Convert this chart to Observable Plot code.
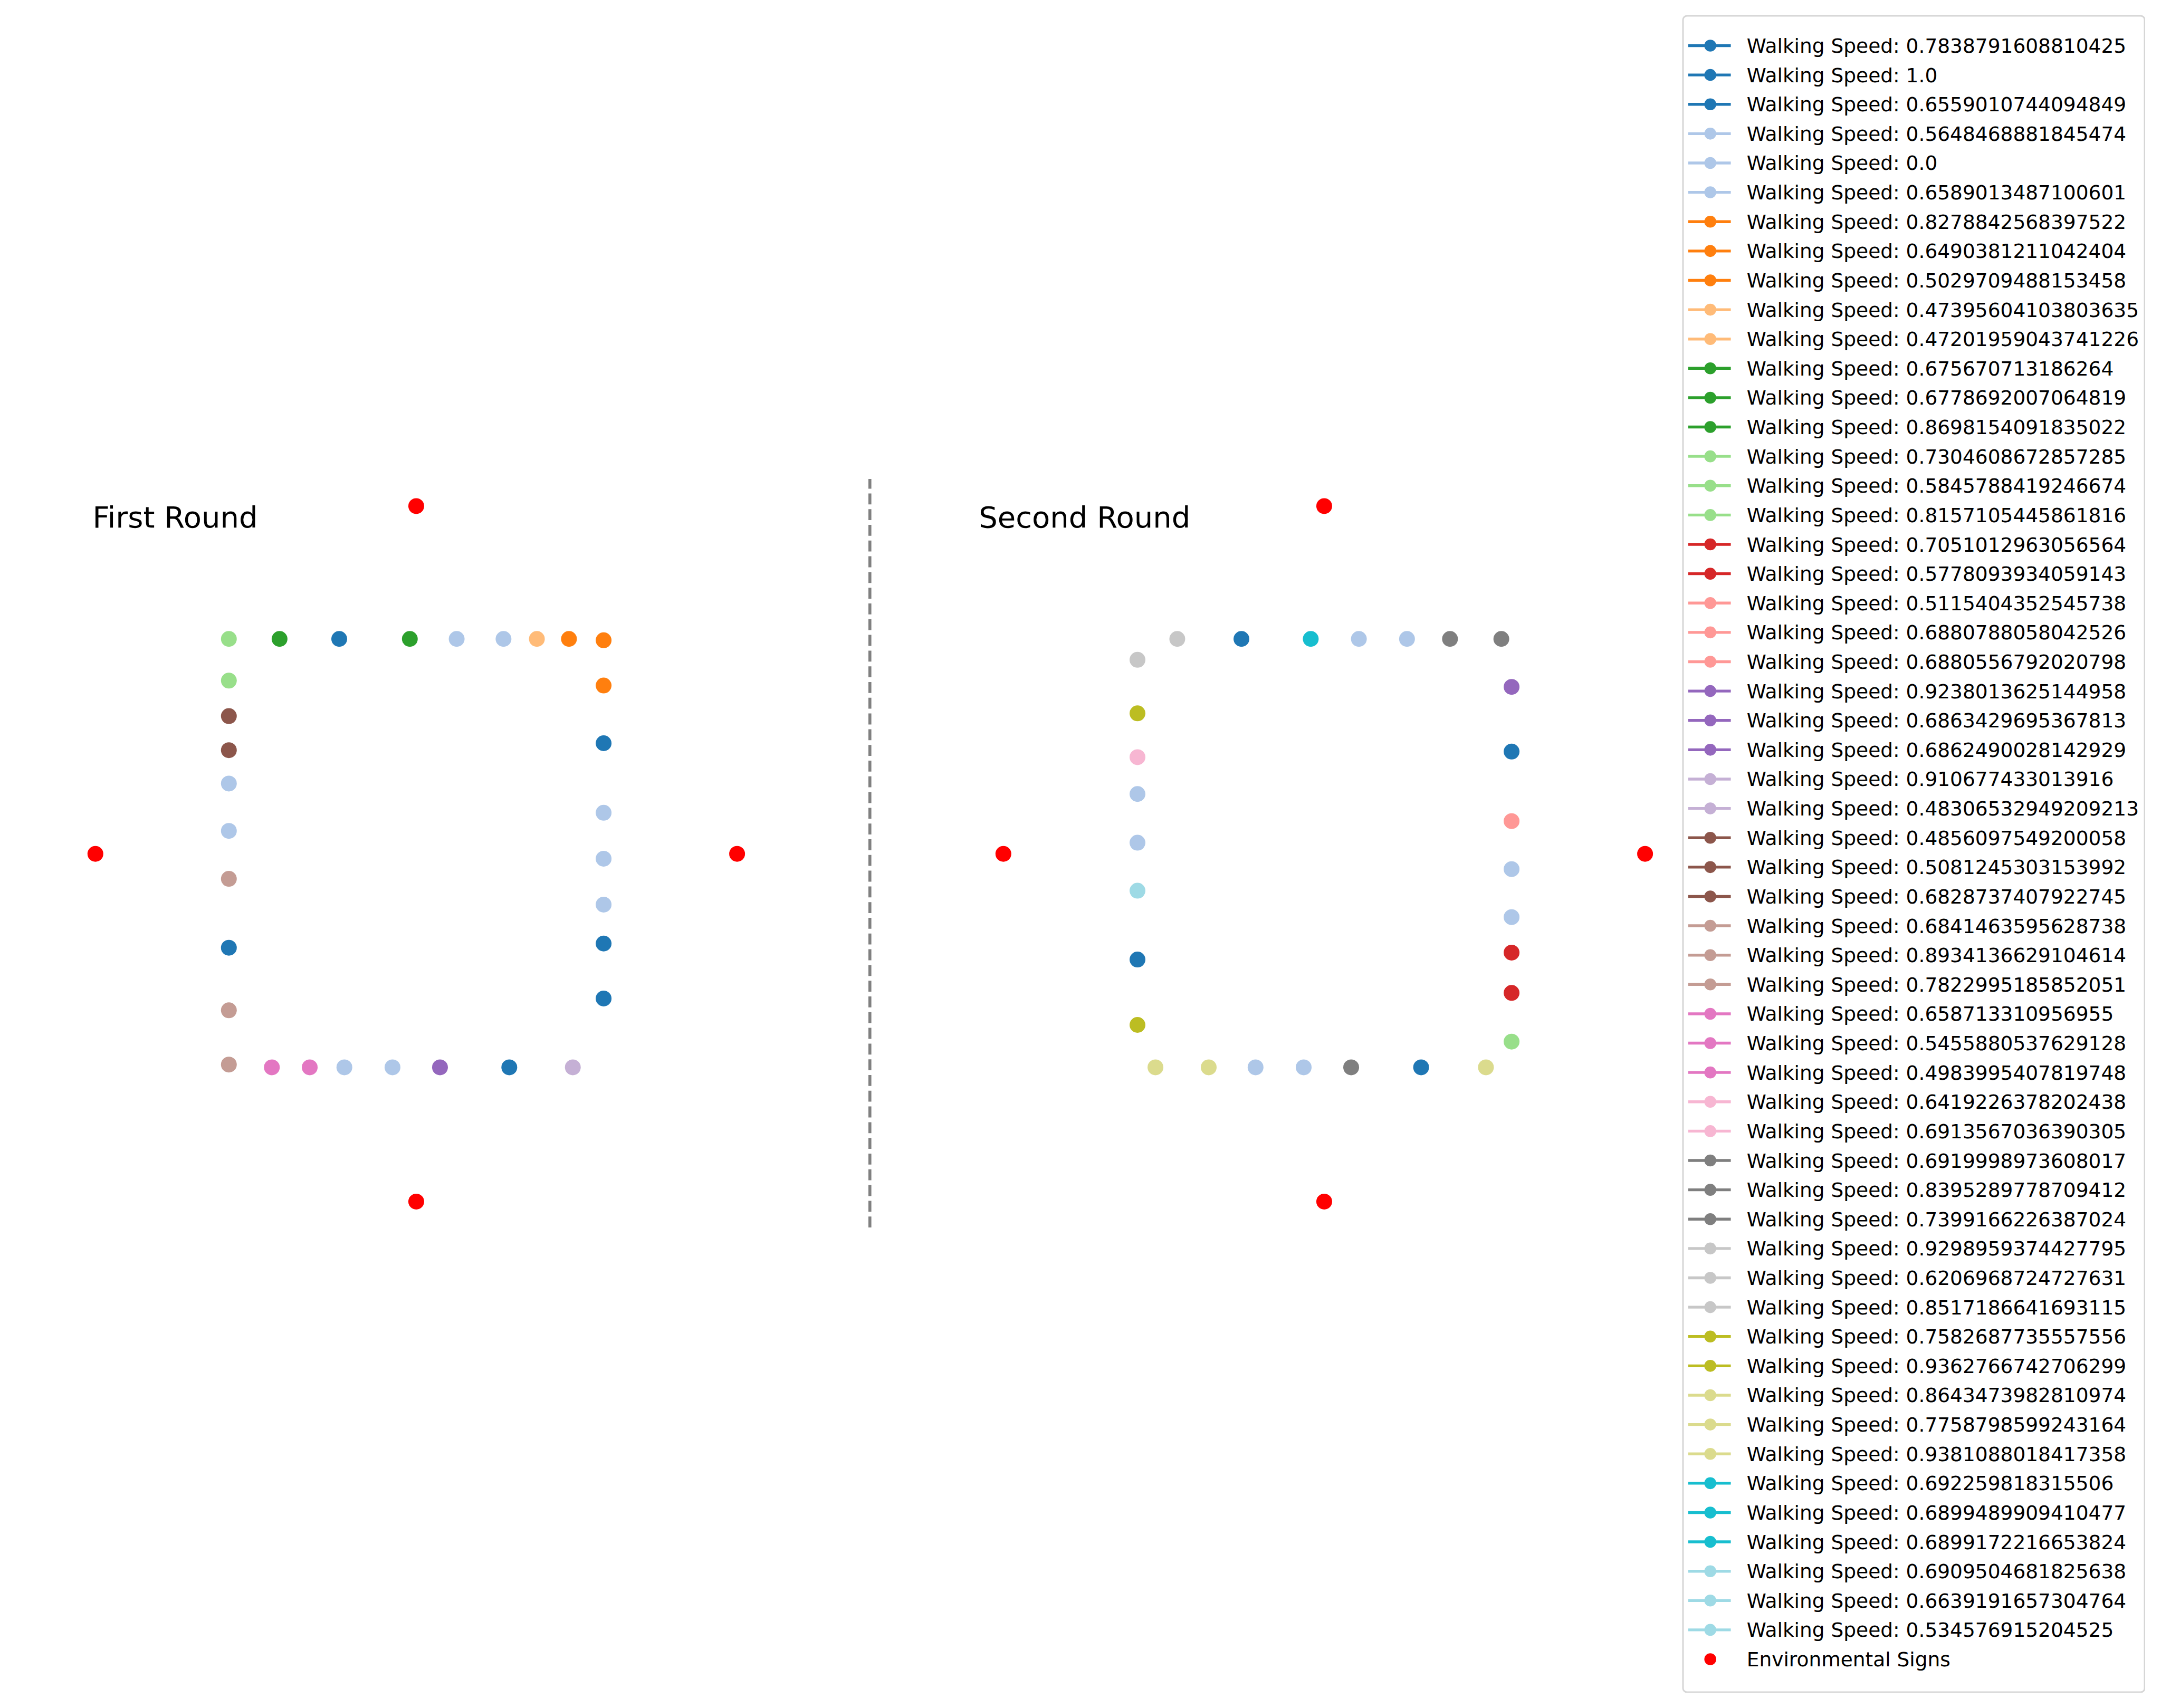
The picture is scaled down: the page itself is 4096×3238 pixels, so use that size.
<!DOCTYPE html>
<html>
<head>
<meta charset="utf-8">
<script src="https://cdn.jsdelivr.net/npm/d3@7"></script>
<script src="https://cdn.jsdelivr.net/npm/@observablehq/plot@0.6"></script>
<style>
  html, body { margin: 0; padding: 0; background: #fff; }
  #fig { position: relative; width: 4096px; height: 3238px; overflow: hidden; font-family: "DejaVu Sans", sans-serif; }
  #fig > * { position: absolute; }
</style>
</head>
<body>
<div id="fig"></div>
<script>
// ---------------- data ----------------
const rounds = ["First Round", "Second Round"];

// tab20 colour groups
const groupNames = ["blue","lightblue","orange","lightorange","green","lightgreen","red","salmon","purple","lightpurple",
  "brown","lightbrown","pink","lightpink","gray","lightgray","olive","lightolive","cyan","lightcyan","sign"];
const groupColors = ["#1f77b4","#aec7e8","#ff7f0e","#ffbb78","#2ca02c","#98df8a","#d62728","#ff9896","#9467bd","#c5b0d5",
  "#8c564b","#c49c94","#e377c2","#f7b6d2","#7f7f7f","#c7c7c7","#bcbd22","#dbdb8d","#17becf","#9edae5","#ff0000"];

// environmental signs (same in both rounds): x, y
const signPositions = [[0, 5], [10, 5], [5, 10], [5, 0]];

// First round: x, y, colour group
const firstRoundPoints = [
  [2.08, 8.09, "lightgreen"], [2.87, 8.09, "green"], [3.80, 8.09, "blue"], [4.90, 8.09, "green"],
  [5.63, 8.09, "lightblue"], [6.36, 8.09, "lightblue"], [6.88, 8.09, "lightorange"], [7.38, 8.09, "orange"],
  [7.92, 8.07, "orange"],
  [7.92, 7.42, "orange"], [7.92, 6.59, "blue"], [7.92, 5.59, "lightblue"], [7.92, 4.93, "lightblue"],
  [7.92, 4.27, "lightblue"], [7.92, 3.71, "blue"], [7.92, 2.92, "blue"],
  [2.08, 7.49, "lightgreen"], [2.08, 6.98, "brown"], [2.08, 6.49, "brown"], [2.08, 6.01, "lightblue"],
  [2.08, 5.33, "lightblue"], [2.08, 4.64, "lightbrown"], [2.08, 3.65, "blue"], [2.08, 2.75, "lightbrown"],
  [2.08, 1.97, "lightbrown"],
  [2.75, 1.93, "pink"], [3.34, 1.93, "pink"], [3.88, 1.93, "lightblue"], [4.63, 1.93, "lightblue"],
  [5.37, 1.93, "purple"], [6.45, 1.93, "blue"], [7.44, 1.93, "lightpurple"]
];

// Second round: x, y, colour group
const secondRoundPoints = [
  [2.71, 8.09, "lightgray"], [3.71, 8.09, "blue"], [4.79, 8.09, "cyan"], [5.54, 8.09, "lightblue"],
  [6.29, 8.09, "lightblue"], [6.96, 8.09, "gray"], [7.76, 8.09, "gray"],
  [2.09, 7.79, "lightgray"], [2.09, 7.02, "olive"], [2.09, 6.39, "lightpink"], [2.09, 5.86, "lightblue"],
  [2.09, 5.16, "lightblue"], [2.09, 4.47, "lightcyan"], [2.09, 3.48, "blue"], [2.09, 2.54, "olive"],
  [7.92, 7.40, "purple"], [7.92, 6.47, "blue"], [7.92, 5.47, "salmon"], [7.92, 4.78, "lightblue"],
  [7.92, 4.09, "lightblue"], [7.92, 3.58, "red"], [7.92, 3.00, "red"], [7.92, 2.30, "lightgreen"],
  [2.37, 1.93, "lightolive"], [3.20, 1.93, "lightolive"], [3.93, 1.93, "lightblue"], [4.68, 1.93, "lightblue"],
  [5.42, 1.93, "gray"], [6.51, 1.93, "blue"], [7.52, 1.93, "lightolive"]
];

// legend entries
const speedLabels = ["0.7838791608810425","1.0","0.6559010744094849","0.5648468881845474","0.0","0.6589013487100601",
  "0.8278842568397522","0.6490381211042404","0.5029709488153458","0.47395604103803635","0.47201959043741226",
  "0.675670713186264","0.6778692007064819","0.8698154091835022","0.7304608672857285","0.5845788419246674",
  "0.8157105445861816","0.7051012963056564","0.5778093934059143","0.5115404352545738","0.6880788058042526",
  "0.6880556792020798","0.9238013625144958","0.6863429695367813","0.6862490028142929","0.910677433013916",
  "0.48306532949209213","0.4856097549200058","0.5081245303153992","0.6828737407922745","0.6841463595628738",
  "0.8934136629104614","0.7822995185852051","0.658713310956955","0.5455880537629128","0.4983995407819748",
  "0.6419226378202438","0.6913567036390305","0.6919998973608017","0.8395289778709412","0.7399166226387024",
  "0.9298959374427795","0.6206968724727631","0.8517186641693115","0.7582687735557556","0.9362766742706299",
  "0.8643473982810974","0.7758798599243164","0.9381088018417358","0.692259818315506","0.6899489909410477",
  "0.6899172216653824","0.6909504681825638","0.6639191657304764","0.534576915204525"];
const speedGroups = ["blue","blue","blue","lightblue","lightblue","lightblue","orange","orange","orange",
  "lightorange","lightorange","green","green","green","lightgreen","lightgreen","lightgreen","red","red",
  "salmon","salmon","salmon","purple","purple","purple","lightpurple","lightpurple","brown","brown","brown",
  "lightbrown","lightbrown","lightbrown","pink","pink","pink","lightpink","lightpink","gray","gray","gray",
  "lightgray","lightgray","lightgray","olive","olive","lightolive","lightolive","lightolive","cyan","cyan","cyan",
  "lightcyan","lightcyan","lightcyan"];
const signsLabel = "Environmental Signs";

// ---------------- build tables ----------------
const walkers = [
  ...firstRoundPoints.map(([x, y, group]) => ({round: rounds[0], x, y, group})),
  ...secondRoundPoints.map(([x, y, group]) => ({round: rounds[1], x, y, group}))
];
const signs = rounds.flatMap(round => signPositions.map(([x, y]) => ({round, x, y, group: "sign"})));
const walkItems = speedLabels.map((s, i) => ({label: `Walking Speed: ${s}`, group: speedGroups[i]}));
const legendItems = [...walkItems, {label: signsLabel, group: "sign"}];

const colorScale = {domain: groupNames, range: groupColors};
const font = "'DejaVu Sans', sans-serif";
const fig = document.getElementById("fig");

// ---------------- main panels ----------------
const main = Plot.plot({
  width: 4096,
  height: 3238,
  margin: 0,
  style: {fontFamily: font, background: "transparent", overflow: "visible"},
  fx: {domain: rounds, range: [0, 3443.6], padding: 0, axis: null},
  x: {domain: [0, 10], range: [179.3, 1395.6], axis: null},
  y: {domain: [0, 10], range: [2277.4, 958.9], axis: null},
  color: colorScale,
  marks: [
    Plot.dot(walkers, {fx: "round", x: "x", y: "y", fill: "group", r: 15}),
    Plot.dot(signs, {fx: "round", x: "x", y: "y", fill: "group", r: 15})
  ]
});
main.style.left = "0px"; main.style.top = "0px";
fig.appendChild(main);

// ---------------- separator and round labels ----------------
const deco = d3.create("svg").attr("width", 4096).attr("height", 3238)
  .style("left", "0px").style("top", "0px").style("pointer-events", "none");
deco.append("line")
  .attr("x1", 1648.8).attr("x2", 1648.8).attr("y1", 2327).attr("y2", 908)
  .attr("stroke", "#808080").attr("stroke-width", 5.6).attr("stroke-dasharray", "20.8 9");
deco.selectAll("text.round").data(rounds).join("text")
  .attr("class", "round")
  .attr("x", (d, i) => [175.6, 1855.3][i]).attr("y", 999.5)
  .attr("font-family", font).attr("font-size", 56).attr("fill", "#000")
  .text(d => d);
fig.appendChild(deco.node());

// ---------------- legend ----------------
const LW = 878, LH = 3181;
const legend = Plot.plot({
  width: LW,
  height: LH,
  margin: 0,
  style: {fontFamily: font, background: "transparent"},
  y: {type: "point", domain: legendItems.map(d => d.label), range: [30.2, 30.2 + 55 * 56.63], axis: null},
  color: colorScale,
  marks: [
    Plot.frame({fill: "white", stroke: "#d6d6d6", strokeWidth: 3, rx: 7.5, inset: 1.5}),
    Plot.ruleY(walkItems, {y: "label", stroke: "group", strokeWidth: 5.4, insetLeft: 12, insetRight: LW - 92.6}),
    Plot.dot(legendItems, {y: "label", fill: "group", r: 11.3, frameAnchor: "left", dx: 53.2}),
    Plot.text(legendItems, {y: "label", text: "label", frameAnchor: "left", dx: 122.3, dy: 1.5,
      textAnchor: "start", fontSize: 37.5, fill: "#000"})
  ]
});
legend.style.left = "3188px"; legend.style.top = "27.7px";
fig.appendChild(legend);
</script>
</body>
</html>
